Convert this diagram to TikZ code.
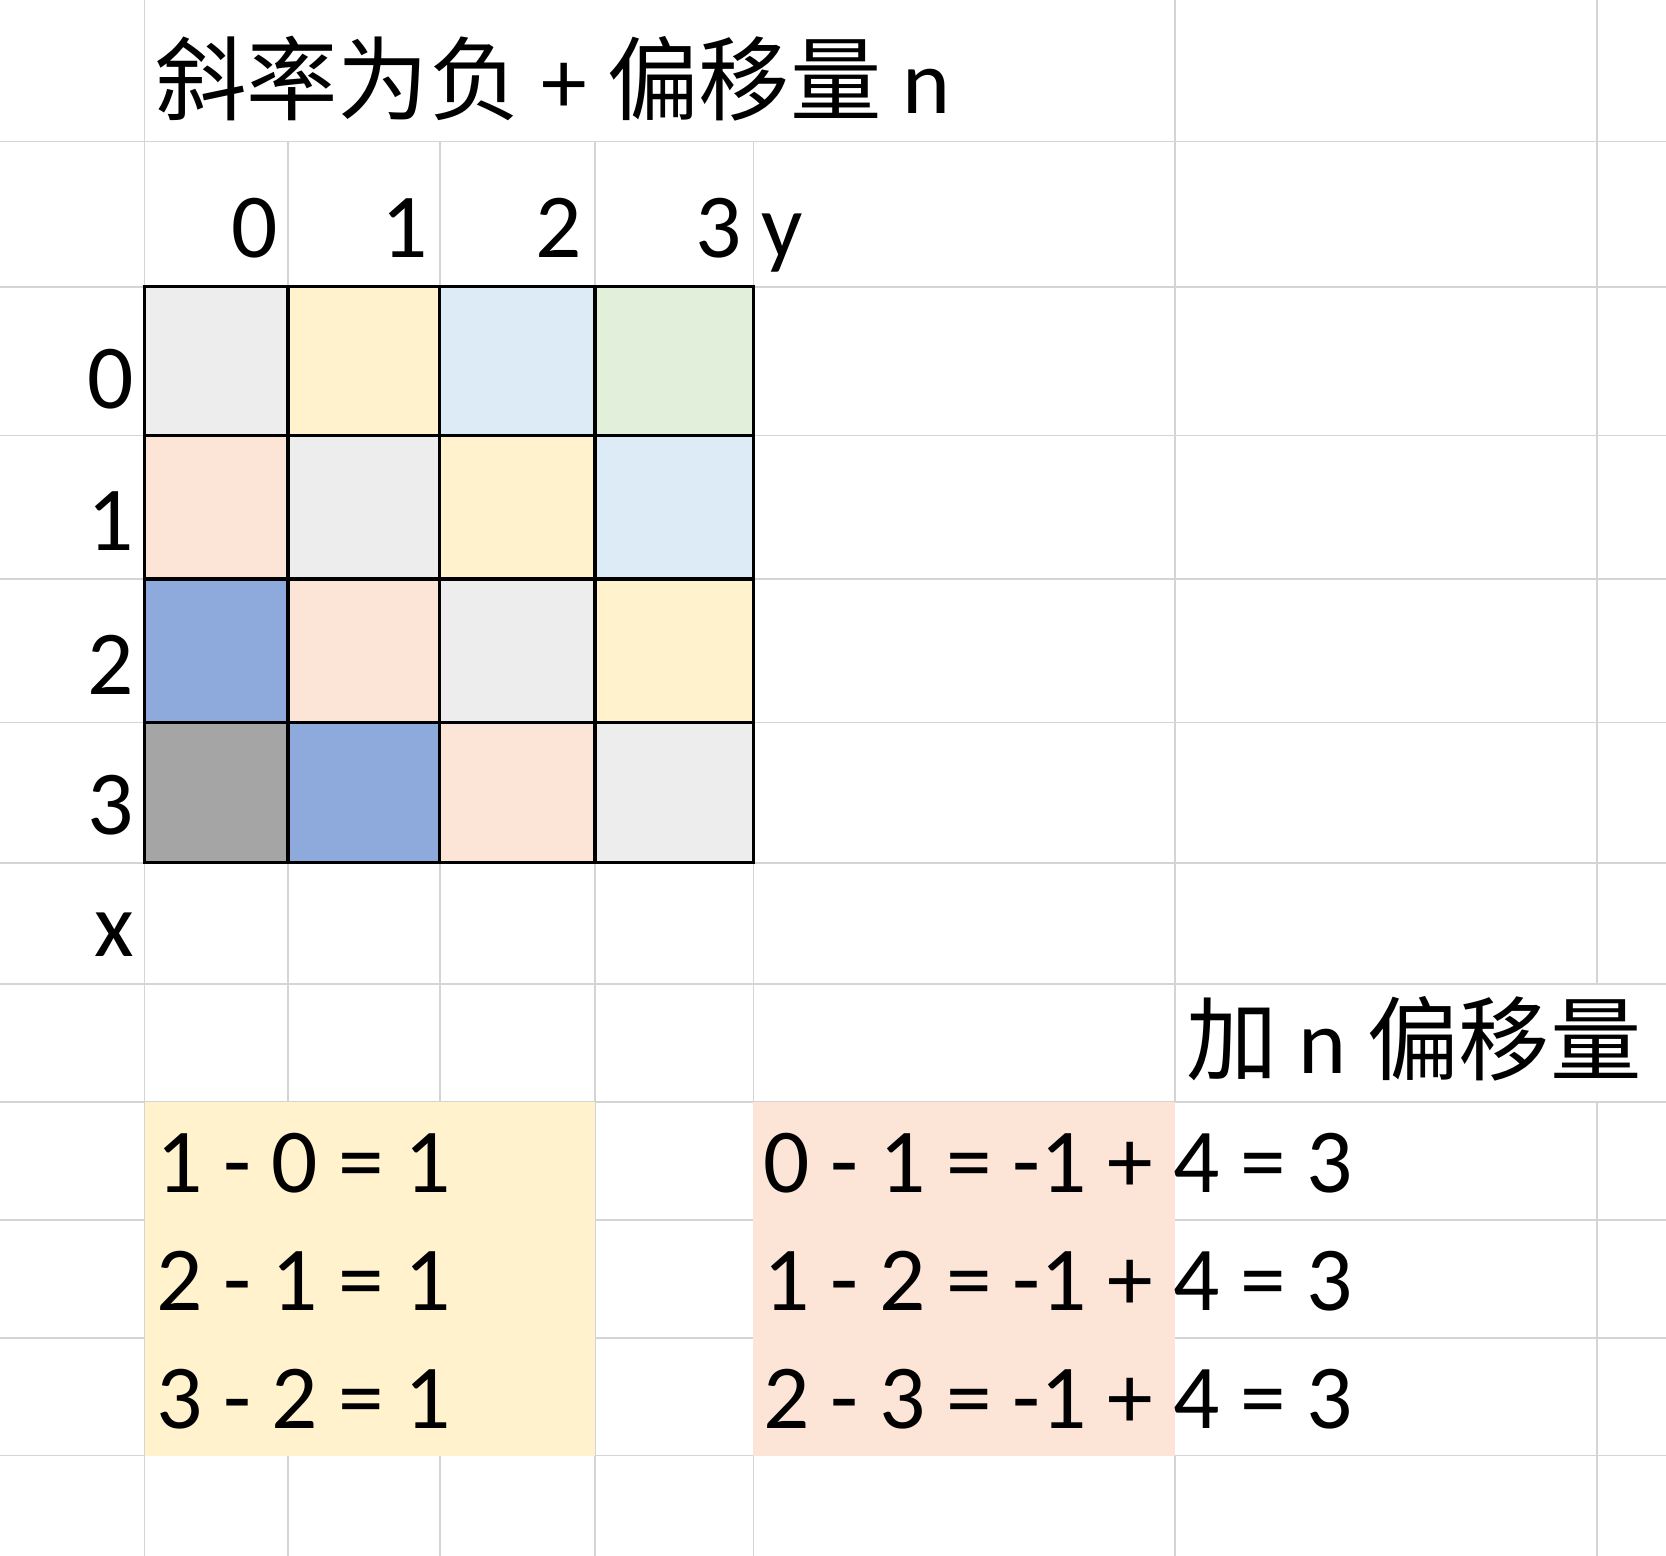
\documentclass[tikz,border=0pt]{standalone}
\usepackage{fontspec}
\setmainfont{Carlito}
\newfontfamily\cjk{Noto Sans CJK SC}
\definecolor{gridgray}{HTML}{D4D4D4}
\definecolor{cgray}{HTML}{EDEDED}
\definecolor{cyellow}{HTML}{FFF2CC}
\definecolor{clblue}{HTML}{DDEBF7}
\definecolor{cgreen}{HTML}{E2EFDA}
\definecolor{cpeach}{HTML}{FCE4D6}
\definecolor{cblue}{HTML}{8EA9DB}
\definecolor{cdgray}{HTML}{A5A5A5}
\newcommand{\bigfs}{\fontsize{86}{100}\selectfont}
\begin{document}
\begin{tikzpicture}[x=1pt,y=-1pt,
  txt/.style={inner sep=0pt, outer sep=0pt, font=\bigfs},
  gl/.style={draw=gridgray, line width=1.5pt},
  bl/.style={draw=black, line width=3pt}]
\useasboundingbox (0,0) rectangle (1568,1464);
\fill[white] (0,0) rectangle (1568,1464);
% spreadsheet grid
\foreach \yy in {133,270,410,545,680,812,926,1037,1148,1259,1370}
  \draw[gl] (0,\yy) -- (1568,\yy);
\draw[gl] (136,0) -- (136,1464);
\foreach \xx in {271,414,560,709}
  \draw[gl] (\xx,133) -- (\xx,1464);
\draw[gl] (1106,0) -- (1106,1037);
\draw[gl] (1106,1370) -- (1106,1464);
\draw[gl] (1503,0) -- (1503,926);
\draw[gl] (1503,1037) -- (1503,1464);
% coloured result areas
\fill[cyellow] (136,1037) rectangle (560,1370);
\fill[cpeach] (709,1037) rectangle (1106,1370);
% matrix cells
\def\cx{{136,271,414,560,709}}
\def\cy{{270,410,545,680,812}}
\foreach \r/\c/\col in {0/0/cgray,0/1/cyellow,0/2/clblue,0/3/cgreen,
  1/0/cpeach,1/1/cgray,1/2/cyellow,1/3/clblue,
  2/0/cblue,2/1/cpeach,2/2/cgray,2/3/cyellow,
  3/0/cdgray,3/1/cblue,3/2/cpeach,3/3/cgray}{
  \pgfmathsetmacro\xa{\cx[\c]}
  \pgfmathsetmacro\xb{\cx[\c+1]}
  \pgfmathsetmacro\ya{\cy[\r]}
  \pgfmathsetmacro\yb{\cy[\r+1]}
  \fill[\col] (\xa,\ya) rectangle (\xb,\yb);
}
\foreach \xx in {136,271,414,560,709}
  \draw[bl] (\xx,270) -- (\xx,812);
\foreach \yy in {270,410,545,680,812}
  \draw[bl] (134.5,\yy) -- (710.5,\yy);
% texts
\node[txt, anchor=base west] (title) at (146,107) {{\cjk 斜率为负} + {\cjk 偏移量} n};
\node[txt, anchor=base east] (col0) at (261,242) {0};
\node[txt, anchor=base east] (col1) at (403,242) {1};
\node[txt, anchor=base east] (col2) at (548,242) {2};
\node[txt, anchor=base east] (col3) at (698,242) {3};
\node[txt, anchor=base west] (ylab) at (717,242) {y};
\node[txt, anchor=base east] (row0) at (126,384) {0};
\node[txt, anchor=base east] (row1) at (126,518) {1};
\node[txt, anchor=base east] (row2) at (126,654) {2};
\node[txt, anchor=base east] (row3) at (126,785) {3};
\node[txt, anchor=base east] (xlab) at (126,900) {x};
\node[txt, anchor=base west] (offs) at (1117,1010) {{\cjk 加} n {\cjk 偏移量}};
\node[txt, anchor=base west] (eqa1) at (147,1122) {1 - 0 = 1};
\node[txt, anchor=base west] (eqa2) at (147,1233) {2 - 1 = 1};
\node[txt, anchor=base west] (eqa3) at (147,1344) {3 - 2 = 1};
\node[txt, anchor=base west] (eqb1) at (719,1122) {0 - 1 = -1 + 4 = 3};
\node[txt, anchor=base west] (eqb2) at (719,1233) {1 - 2 = -1 + 4 = 3};
\node[txt, anchor=base west] (eqb3) at (719,1344) {2 - 3 = -1 + 4 = 3};
\end{tikzpicture}
\end{document}
